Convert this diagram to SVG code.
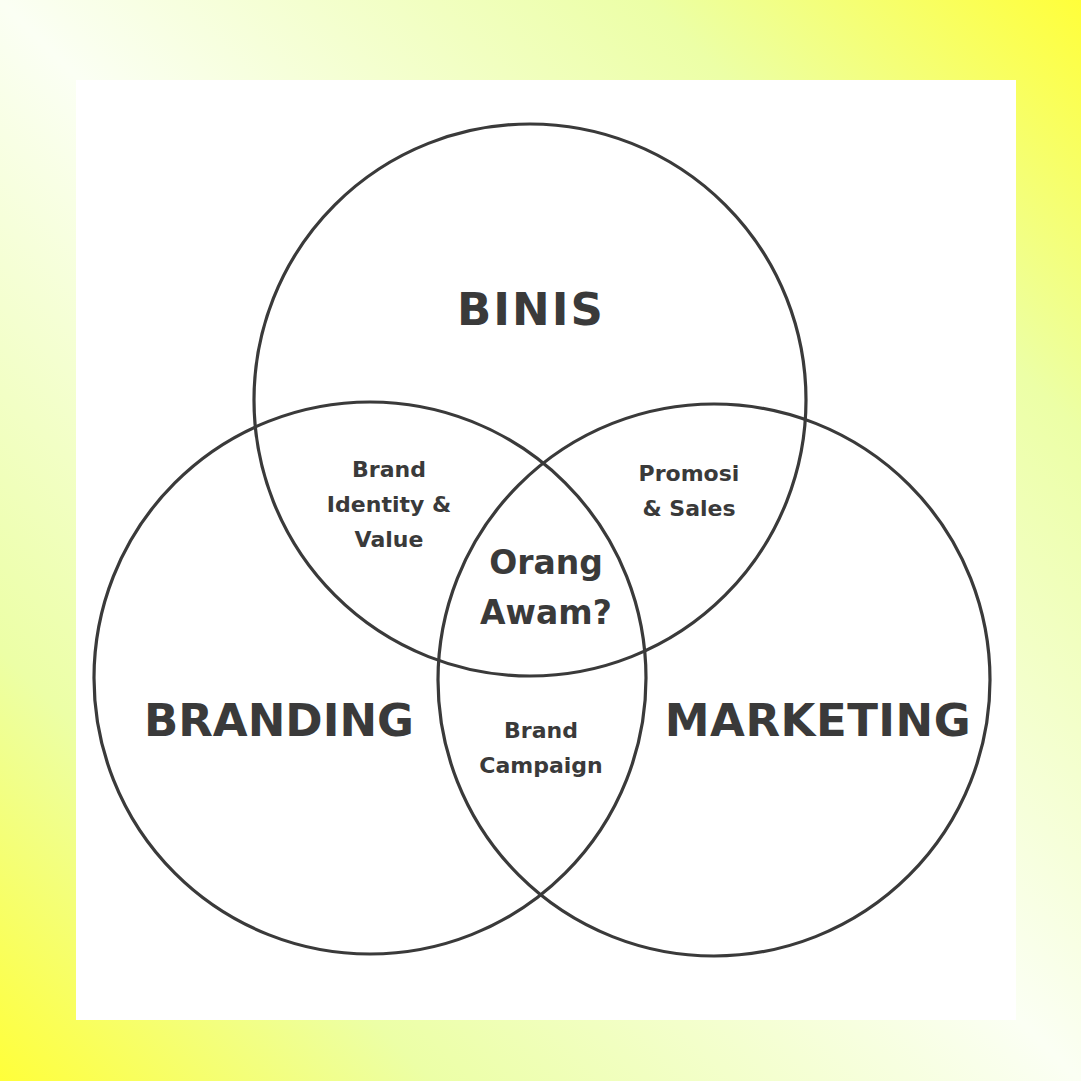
<svg xmlns="http://www.w3.org/2000/svg" width="1081" height="1081" viewBox="0 0 1081 1081">
<defs>
<linearGradient id="bg" x1="0" y1="1081" x2="1081" y2="0" gradientUnits="userSpaceOnUse">
<stop offset="0" stop-color="#ffff3a"/>
<stop offset="0.2" stop-color="#ecffa6"/>
<stop offset="0.5" stop-color="#fbfff4"/>
<stop offset="0.8" stop-color="#ecffa6"/>
<stop offset="1" stop-color="#ffff3a"/>
</linearGradient>
<style>
.c{fill:none;stroke:#3a3a3a;stroke-width:3.2}
.t{font-family:"DejaVu Sans","Liberation Sans",sans-serif;font-weight:bold;fill:#3a3a3a;text-anchor:middle}
.big{font-size:45px}
.mid{font-size:33px}
.sm{font-size:22px}
</style>
</defs>
<rect x="0" y="0" width="1081" height="1081" fill="url(#bg)"/>
<rect x="76" y="80" width="940" height="940" fill="#ffffff"/>
<g id="binis">
<circle class="c" cx="530" cy="400" r="276"/>
<text class="t big" x="531" y="325" letter-spacing="2">BINIS</text>
</g>
<g id="branding">
<circle class="c" cx="370" cy="678" r="276"/>
<text class="t big" x="279" y="736">BRANDING</text>
</g>
<g id="marketing">
<circle class="c" cx="714" cy="680" r="276"/>
<text class="t big" x="818" y="736" letter-spacing="0.5">MARKETING</text>
</g>
<g id="brand-identity">
<text class="t sm" x="389" y="477">Brand</text>
<text class="t sm" x="389" y="512">Identity &amp;</text>
<text class="t sm" x="389" y="547">Value</text>
</g>
<g id="promosi">
<text class="t sm" x="689" y="481">Promosi</text>
<text class="t sm" x="689" y="516">&amp; Sales</text>
</g>
<g id="orang-awam">
<text class="t mid" x="546" y="574">Orang</text>
<text class="t mid" x="546" y="624">Awam?</text>
</g>
<g id="brand-campaign">
<text class="t sm" x="541" y="738">Brand</text>
<text class="t sm" x="541" y="773">Campaign</text>
</g>
<g id="connectors"></g>
</svg>
